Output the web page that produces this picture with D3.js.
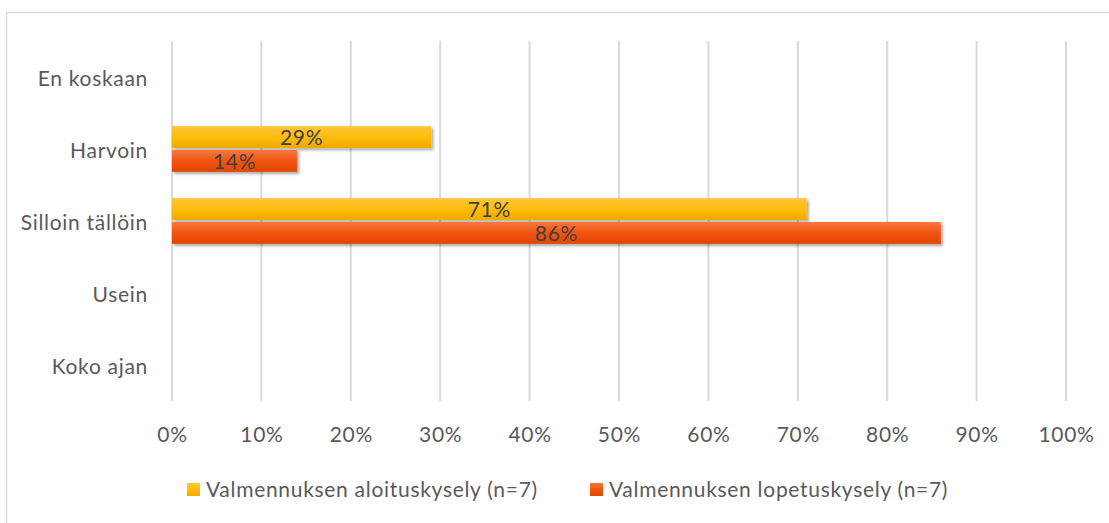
<!DOCTYPE html>
<html>
<head>
<meta charset="utf-8">
<script src="https://cdn.jsdelivr.net/npm/d3@7"></script>
<style>
body{margin:0;background:#fff;}
text{font-family:Lato,"Open Sans",sans-serif;letter-spacing:0.7px;}
</style>
</head>
<body>
<div id="chart-area"></div>
<script>
// data
var categories=["En koskaan","Harvoin","Silloin tällöin","Usein","Koko ajan"];
var seriesNames=["Valmennuksen aloituskysely (n=7)","Valmennuksen lopetuskysely (n=7)"];
var aloitus=[0,0.29,0.71,0,0];
var lopetus=[0,0.14,0.86,0,0];
var ticks=[0,0.1,0.2,0.3,0.4,0.5,0.6,0.7,0.8,0.9,1];

var W=1109,H=523;
var margin={left:172,right:43,top:41,bottom:122};
var width=W-margin.left-margin.right;
var height=H-margin.top-margin.bottom;
var fs="21px";

var svg=d3.select("#chart-area").append("svg")
    .attr("width",W)
    .attr("height",H);

var defs=svg.append("defs");
var gradY=defs.append("linearGradient").attr("id","gy").attr("x1",0).attr("y1",0).attr("x2",0).attr("y2",1);
gradY.append("stop").attr("offset","0%").attr("stop-color","#ffc53d");
gradY.append("stop").attr("offset","50%").attr("stop-color","#ffbc0a");
gradY.append("stop").attr("offset","100%").attr("stop-color","#eeaa00");
var gradR=defs.append("linearGradient").attr("id","gr").attr("x1",0).attr("y1",0).attr("x2",0).attr("y2",1);
gradR.append("stop").attr("offset","0%").attr("stop-color","#f77842");
gradR.append("stop").attr("offset","50%").attr("stop-color","#f25410");
gradR.append("stop").attr("offset","100%").attr("stop-color","#e04800");
var shadow=defs.append("filter").attr("id","sh").attr("x","-5%").attr("y","-30%").attr("width","115%").attr("height","170%");
shadow.append("feDropShadow").attr("dx",2).attr("dy",2).attr("stdDeviation",1.5).attr("flood-color","#000").attr("flood-opacity",0.35);

// chart border
svg.append("rect")
    .attr("x",6.5).attr("y",12.5)
    .attr("width",W+20).attr("height",H+20)
    .attr("fill","none").attr("stroke","#d9d9d9").attr("stroke-width",1.5);

var g=svg.append("g")
    .attr("transform","translate("+margin.left+","+margin.top+")");

var x=d3.scaleLinear().domain([0,1]).range([0,width]);
var y=d3.scaleBand().domain(categories).range([0,height]);
var inner=d3.scaleBand().domain([0,1]).range([0,y.bandwidth()]).paddingInner(0.08).paddingOuter(0.55);

// gridlines
g.selectAll(".grid").data(ticks).enter().append("line")
    .attr("x1",d=>x(d)).attr("x2",d=>x(d))
    .attr("y1",0).attr("y2",height)
    .attr("stroke","#d9d9d9").attr("stroke-width",2);

// x axis labels
var bottomAxis=d3.axisBottom(x).tickValues(ticks).tickFormat(d3.format(".0%")).tickSize(0).tickPadding(26);
var xa=g.append("g").attr("transform","translate(0,"+height+")").call(bottomAxis);
xa.select(".domain").remove();
xa.selectAll("text").attr("font-size",fs).attr("fill","#595959").attr("font-family","Lato,'Open Sans',sans-serif");

// y axis labels
var leftAxis=d3.axisLeft(y).tickSize(0).tickPadding(24);
var ya=g.append("g").call(leftAxis);
ya.select(".domain").remove();
ya.selectAll("text").attr("font-size",fs).attr("fill","#595959").attr("dy","0.45em").attr("font-family","Lato,'Open Sans',sans-serif");

var series=[aloitus,lopetus];
var fills=["url(#gy)","url(#gr)"];

series.forEach(function(vals,si){
    var rows=categories.map(function(c,i){return {cat:c,v:vals[i]};}).filter(function(d){return d.v>0;});
    g.selectAll(".bar"+si).data(rows).enter().append("rect")
        .attr("x",0)
        .attr("y",d=>y(d.cat)+inner(si))
        .attr("width",d=>x(d.v))
        .attr("height",inner.bandwidth())
        .attr("fill",fills[si])
        .attr("filter","url(#sh)");
    g.selectAll(".lab"+si).data(rows).enter().append("text")
        .attr("x",d=>x(d.v)/2)
        .attr("y",d=>y(d.cat)+inner(si)+inner.bandwidth()/2)
        .attr("dy","0.38em")
        .attr("text-anchor","middle")
        .attr("font-size",fs)
        .attr("fill","#404040")
        .text(d=>d3.format(".0%")(d.v));
});

// legend
var legendX=[187,590];
var leg=svg.append("g");
seriesNames.forEach(function(name,i){
    var row=leg.append("g").attr("transform","translate("+legendX[i]+",483)");
    row.append("rect").attr("width",13).attr("height",13).attr("fill",fills[i]);
    row.append("text").attr("x",19).attr("y",6.5).attr("dy","0.38em")
        .attr("font-size",fs).attr("fill","#595959").text(name);
});
</script>
</body>
</html>
